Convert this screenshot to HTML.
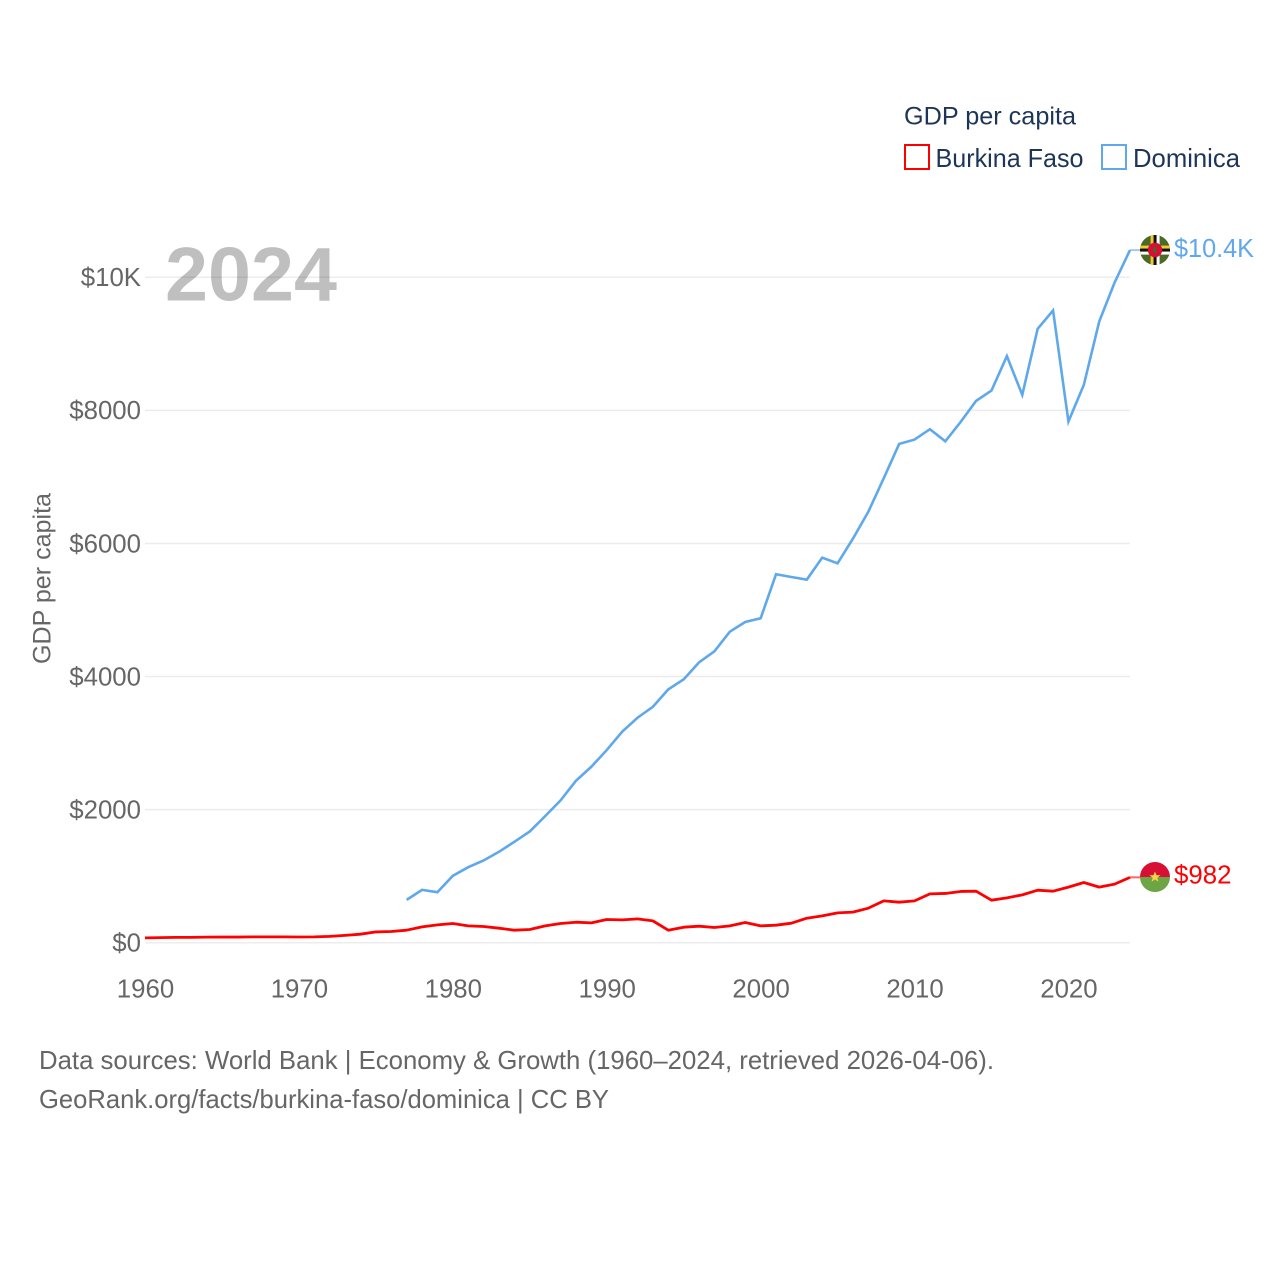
<!DOCTYPE html>
<html lang="en">
<head>
<meta charset="utf-8">
<title>GDP per capita: Burkina Faso and Dominica</title>
<style>
html,body{margin:0;padding:0;background:#fff;}
svg{display:block;}
text{font-family:"Liberation Sans",sans-serif;}
</style>
</head>
<body>
<svg id="chart" xmlns="http://www.w3.org/2000/svg" width="1280" height="1280" viewBox="0 0 1280 1280">
  <defs>
    <clipPath id="flag-clip-dm"><circle cx="1155" cy="250" r="15"/></clipPath>
    <clipPath id="flag-clip-bf"><circle cx="1155" cy="877" r="15"/></clipPath>
  </defs>
  <rect width="1280" height="1280" fill="#fff"/>

  <g id="grid"></g>
  <g id="y-ticks"></g>
  <g id="x-ticks"></g>

  <text transform="translate(50.5,664) rotate(-90)" font-size="25" fill="#666" textLength="171" lengthAdjust="spacingAndGlyphs">GDP per capita</text>
  <text x="165" y="300.5" font-size="76" font-weight="700" fill="#000" fill-opacity="0.25" textLength="172" lengthAdjust="spacingAndGlyphs">2024</text>

  <g>
    <text x="904" y="124.5" font-size="25" fill="#1d3557" textLength="172" lengthAdjust="spacingAndGlyphs">GDP per capita</text>
    <g>
      <rect x="905" y="145" width="24" height="24" fill="none" stroke="#ff0000" stroke-width="2"/>
      <text x="935.5" y="167" font-size="26" fill="#1d3557" textLength="148" lengthAdjust="spacingAndGlyphs">Burkina Faso</text>
    </g>
    <g>
      <rect x="1102" y="145" width="24" height="24" fill="none" stroke="#5fa8ec" stroke-width="2"/>
      <text x="1133" y="167" font-size="26" fill="#1d3557" textLength="107" lengthAdjust="spacingAndGlyphs">Dominica</text>
    </g>
  </g>

  <g id="series"></g>

  <g clip-path="url(#flag-clip-dm)">
    <rect x="1140" y="235" width="30" height="30" fill="#4b6a26"/>
    <rect x="1140" y="245.6" width="30" height="3" fill="#f5c832"/>
    <rect x="1140" y="248.6" width="30" height="3" fill="#111"/>
    <rect x="1140" y="251.6" width="30" height="3" fill="#fff"/>
    <rect x="1150.6" y="235" width="3" height="30" fill="#f5c832"/>
    <rect x="1153.6" y="235" width="3" height="30" fill="#111"/>
    <rect x="1156.6" y="235" width="3" height="30" fill="#fff"/>
    <circle cx="1155" cy="250" r="7.2" fill="#d80f35"/>
    <ellipse cx="1155" cy="250" rx="1.6" ry="3" fill="#3f6b2a"/>
  </g>
  <g clip-path="url(#flag-clip-bf)">
    <rect x="1140" y="862" width="30" height="15" fill="#d80f35"/>
    <rect x="1140" y="877" width="30" height="15" fill="#6da544"/>
    <polygon points="1155,871.5 1156.5,875.3 1160.5,875.3 1157.3,877.8 1158.4,881.7 1155,879.4 1151.6,881.7 1152.7,877.8 1149.5,875.3 1153.5,875.3" fill="#f7d54a"/>
  </g>

  <text x="1174" y="257" font-size="26" fill="#5fa8ec" textLength="80" lengthAdjust="spacingAndGlyphs">$10.4K</text>
  <text x="1174" y="883.5" font-size="26" fill="#ff0000" textLength="57.5" lengthAdjust="spacingAndGlyphs">$982</text>

  <text x="39" y="1069" font-size="25.6" fill="#666" textLength="955" lengthAdjust="spacingAndGlyphs">Data sources: World Bank | Economy &amp; Growth (1960–2024, retrieved 2026-04-06).</text>
  <text x="39" y="1108" font-size="25.6" fill="#666" textLength="570" lengthAdjust="spacingAndGlyphs">GeoRank.org/facts/burkina-faso/dominica | CC BY</text>
</svg>

<script>
const xTickYears = [1960, 1970, 1980, 1990, 2000, 2010, 2020];
const yTickValues = [0, 2000, 4000, 6000, 8000, 10000];
const yTickLabels = ["$0", "$2000", "$4000", "$6000", "$8000", "$10K"];
const firstYear = 1960;
const lastYear = 2024;

const burkinaFasoValues = [
  72, 76, 80, 80, 84, 85, 85, 88, 88, 88,
  86, 87, 95, 110, 128, 162, 168, 188, 238, 268,
  289, 253, 243, 218, 188, 198, 253, 289, 308, 298,
  349, 343, 358, 328, 188, 233, 248, 228, 253, 304,
  253, 263, 293, 368, 403, 448, 459, 519, 629, 609,
  629, 734, 740, 770, 774, 639, 674, 719, 789, 774,
  835, 905, 835, 880, 982
];

const dominicaValues = [
  null, null, null, null, null, null, null, null, null, null,
  null, null, null, null, null, null, null, 644, 794, 759,
  1005, 1135, 1236, 1366, 1516, 1672, 1902, 2138, 2433, 2644,
  2895, 3170, 3381, 3546, 3807, 3958, 4213, 4379, 4674, 4820,
  4875, 5537, 5496, 5456, 5787, 5702, 6073, 6478, 6980, 7496,
  7561, 7717, 7536, 7827, 8143, 8298, 8815, 8233, 9226, 9501,
  7832, 8383, 9335, 9922, 10409
];

const SVG_NS = "http://www.w3.org/2000/svg";
const plotLeft = 145;
const plotRight = 1130;
const plotBottom = 942.7;
const plotTop = 277.3;
const yMax = 10000;

function xScale(year) {
  return plotLeft + (year - firstYear) * (plotRight - plotLeft) / (lastYear - firstYear);
}
function yScale(value) {
  return plotBottom - value * (plotBottom - plotTop) / yMax;
}
function linePath(values) {
  let d = "";
  values.forEach(function (v, i) {
    if (v === null) return;
    const cmd = d === "" ? "M" : "L";
    d += cmd + xScale(firstYear + i).toFixed(2) + " " + yScale(v).toFixed(2);
  });
  return d;
}

const gridGroup = document.getElementById("grid");
const yTickGroup = document.getElementById("y-ticks");
const xTickGroup = document.getElementById("x-ticks");
const seriesGroup = document.getElementById("series");

yTickValues.forEach(function (value, i) {
  const line = document.createElementNS(SVG_NS, "line");
  
  
  line.setAttribute("x1", plotLeft);
  line.setAttribute("x2", plotRight);
  line.setAttribute("y1", yScale(value));
  line.setAttribute("y2", yScale(value));
  line.setAttribute("stroke", "#ececec");
  line.setAttribute("stroke-width", "1.5");
  gridGroup.appendChild(line);

  const label = document.createElementNS(SVG_NS, "text");
  
  
  label.setAttribute("x", 141);
  label.setAttribute("y", yScale(value) + 8.8);
  label.setAttribute("text-anchor", "end");
  label.setAttribute("font-size", "25.8");
  label.setAttribute("fill", "#666");
  label.textContent = yTickLabels[i];
  yTickGroup.appendChild(label);
});

xTickYears.forEach(function (year) {
  const label = document.createElementNS(SVG_NS, "text");
  
  
  label.setAttribute("x", xScale(year) + 0.5);
  label.setAttribute("y", 997.5);
  label.setAttribute("text-anchor", "middle");
  label.setAttribute("font-size", "25.8");
  label.setAttribute("fill", "#666");
  label.textContent = String(year);
  xTickGroup.appendChild(label);
});

const dominicaLast = dominicaValues[dominicaValues.length - 1];
const burkinaLast = burkinaFasoValues[burkinaFasoValues.length - 1];

const dominicaConnector = document.createElementNS(SVG_NS, "line");


dominicaConnector.setAttribute("x1", xScale(lastYear));
dominicaConnector.setAttribute("x2", 1142);
dominicaConnector.setAttribute("y1", yScale(dominicaLast));
dominicaConnector.setAttribute("y2", yScale(dominicaLast));
dominicaConnector.setAttribute("stroke", "#5fa8ec");
dominicaConnector.setAttribute("stroke-opacity", "0.6");
dominicaConnector.setAttribute("stroke-width", "2");
seriesGroup.appendChild(dominicaConnector);

const burkinaConnector = document.createElementNS(SVG_NS, "line");


burkinaConnector.setAttribute("x1", xScale(lastYear));
burkinaConnector.setAttribute("x2", 1142);
burkinaConnector.setAttribute("y1", yScale(burkinaLast));
burkinaConnector.setAttribute("y2", yScale(burkinaLast));
burkinaConnector.setAttribute("stroke", "#ff0000");
burkinaConnector.setAttribute("stroke-opacity", "0.6");
burkinaConnector.setAttribute("stroke-width", "2");
seriesGroup.appendChild(burkinaConnector);

const dominicaLine = document.createElementNS(SVG_NS, "path");


dominicaLine.setAttribute("d", linePath(dominicaValues));
dominicaLine.setAttribute("fill", "none");
dominicaLine.setAttribute("stroke", "#5fa8ec");
dominicaLine.setAttribute("stroke-width", "2.6");
dominicaLine.setAttribute("stroke-linejoin", "miter");
seriesGroup.appendChild(dominicaLine);

const burkinaLine = document.createElementNS(SVG_NS, "path");


burkinaLine.setAttribute("d", linePath(burkinaFasoValues));
burkinaLine.setAttribute("fill", "none");
burkinaLine.setAttribute("stroke", "#ff0000");
burkinaLine.setAttribute("stroke-width", "2.8");
burkinaLine.setAttribute("stroke-linejoin", "round");
seriesGroup.appendChild(burkinaLine);
</script>
</body>
</html>
